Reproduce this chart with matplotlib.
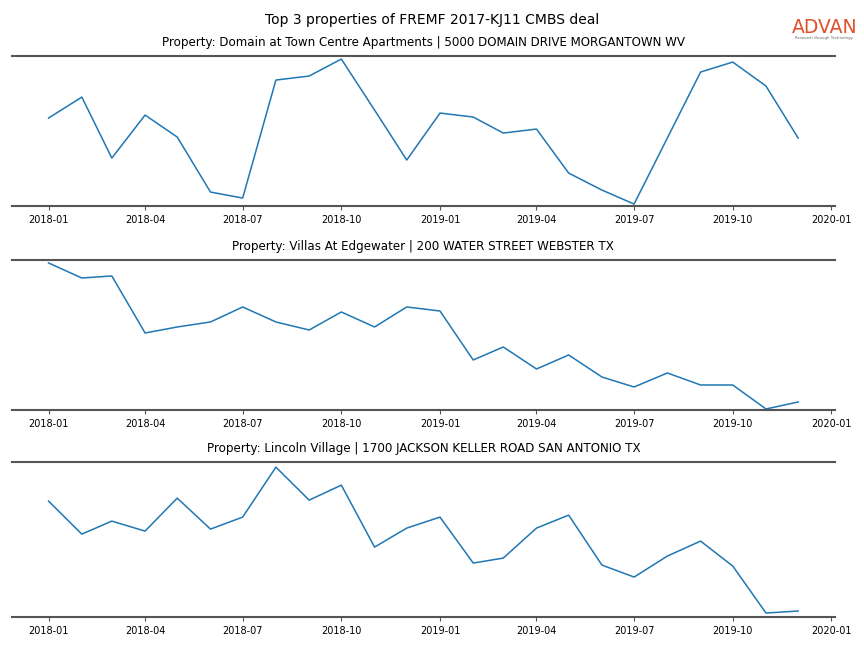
import pandas as pd
import matplotlib
matplotlib.use('Agg')
import matplotlib.pyplot as plt
import matplotlib.dates as mdates

months = pd.date_range('2018-01-01', '2019-12-01', freq='MS')

titles = ['Property: Domain at Town Centre Apartments | 5000 DOMAIN DRIVE MORGANTOWN WV',
          'Property: Villas At Edgewater | 200 WATER STREET WEBSTER TX',
          'Property: Lincoln Village | 1700 JACKSON KELLER ROAD SAN ANTONIO TX']

domain = [88, 109, 48, 91, 69, 14, 8, 126, 130, 147, 96, 46,
          93, 89, 73, 77, 33, 16, 2, 68, 134, 144, 120, 68]
villas = [147, 132, 134, 77, 83, 88, 103, 88, 80, 98, 83, 103,
          99, 50, 63, 41, 55, 33, 23, 37, 25, 25, 1, 8]
lincoln = [116, 83, 96, 86, 119, 88, 100, 150, 117, 132, 70, 89,
           100, 54, 59, 89, 102, 52, 40, 61, 76, 51, 4, 6]

series = [domain, villas, lincoln]
ylims = [(0, 150), (0, 150), (0, 155)]

fig = plt.figure(figsize=(8.64, 6.48), dpi=100)
boxes = [[0.014, 0.682, 0.952, 0.2315],
         [0.014, 0.3673, 0.952, 0.2315],
         [0.014, 0.0478, 0.952, 0.239]]

for box, vals, title, yl in zip(boxes, series, titles, ylims):
    ax = fig.add_axes(box)
    ax.plot(months, vals, color='#1f77b4', linewidth=1.1)
    ax.set_ylim(yl)
    ax.set_xlim(pd.Timestamp('2017-11-28'), pd.Timestamp('2020-01-04'))
    ax.xaxis.set_major_locator(mdates.MonthLocator(bymonth=[1, 4, 7, 10]))
    ax.xaxis.set_major_formatter(mdates.DateFormatter('%Y-%m'))
    ax.set_yticks([])
    for s in ['left', 'right']:
        ax.spines[s].set_visible(False)
    for s in ['top', 'bottom']:
        ax.spines[s].set_color('#555555')
        ax.spines[s].set_linewidth(1.5)
    ax.tick_params(axis='x', labelsize=7, length=3, color='#555555')
    ax.set_title(title, fontsize=8.6, pad=7)

fig.suptitle('Top 3 properties of FREMF 2017-KJ11 CMBS deal', fontsize=10, y=0.98)

# logo
fig.text(0.954, 0.957, 'ADVAN', color='#e0502a', fontsize=13.5,
         ha='center', va='center')
fig.text(0.954, 0.941, 'Research through Technology', color='#666666', fontsize=2.8,
         ha='center', va='center')

fig.savefig('out.png', dpi=100)
